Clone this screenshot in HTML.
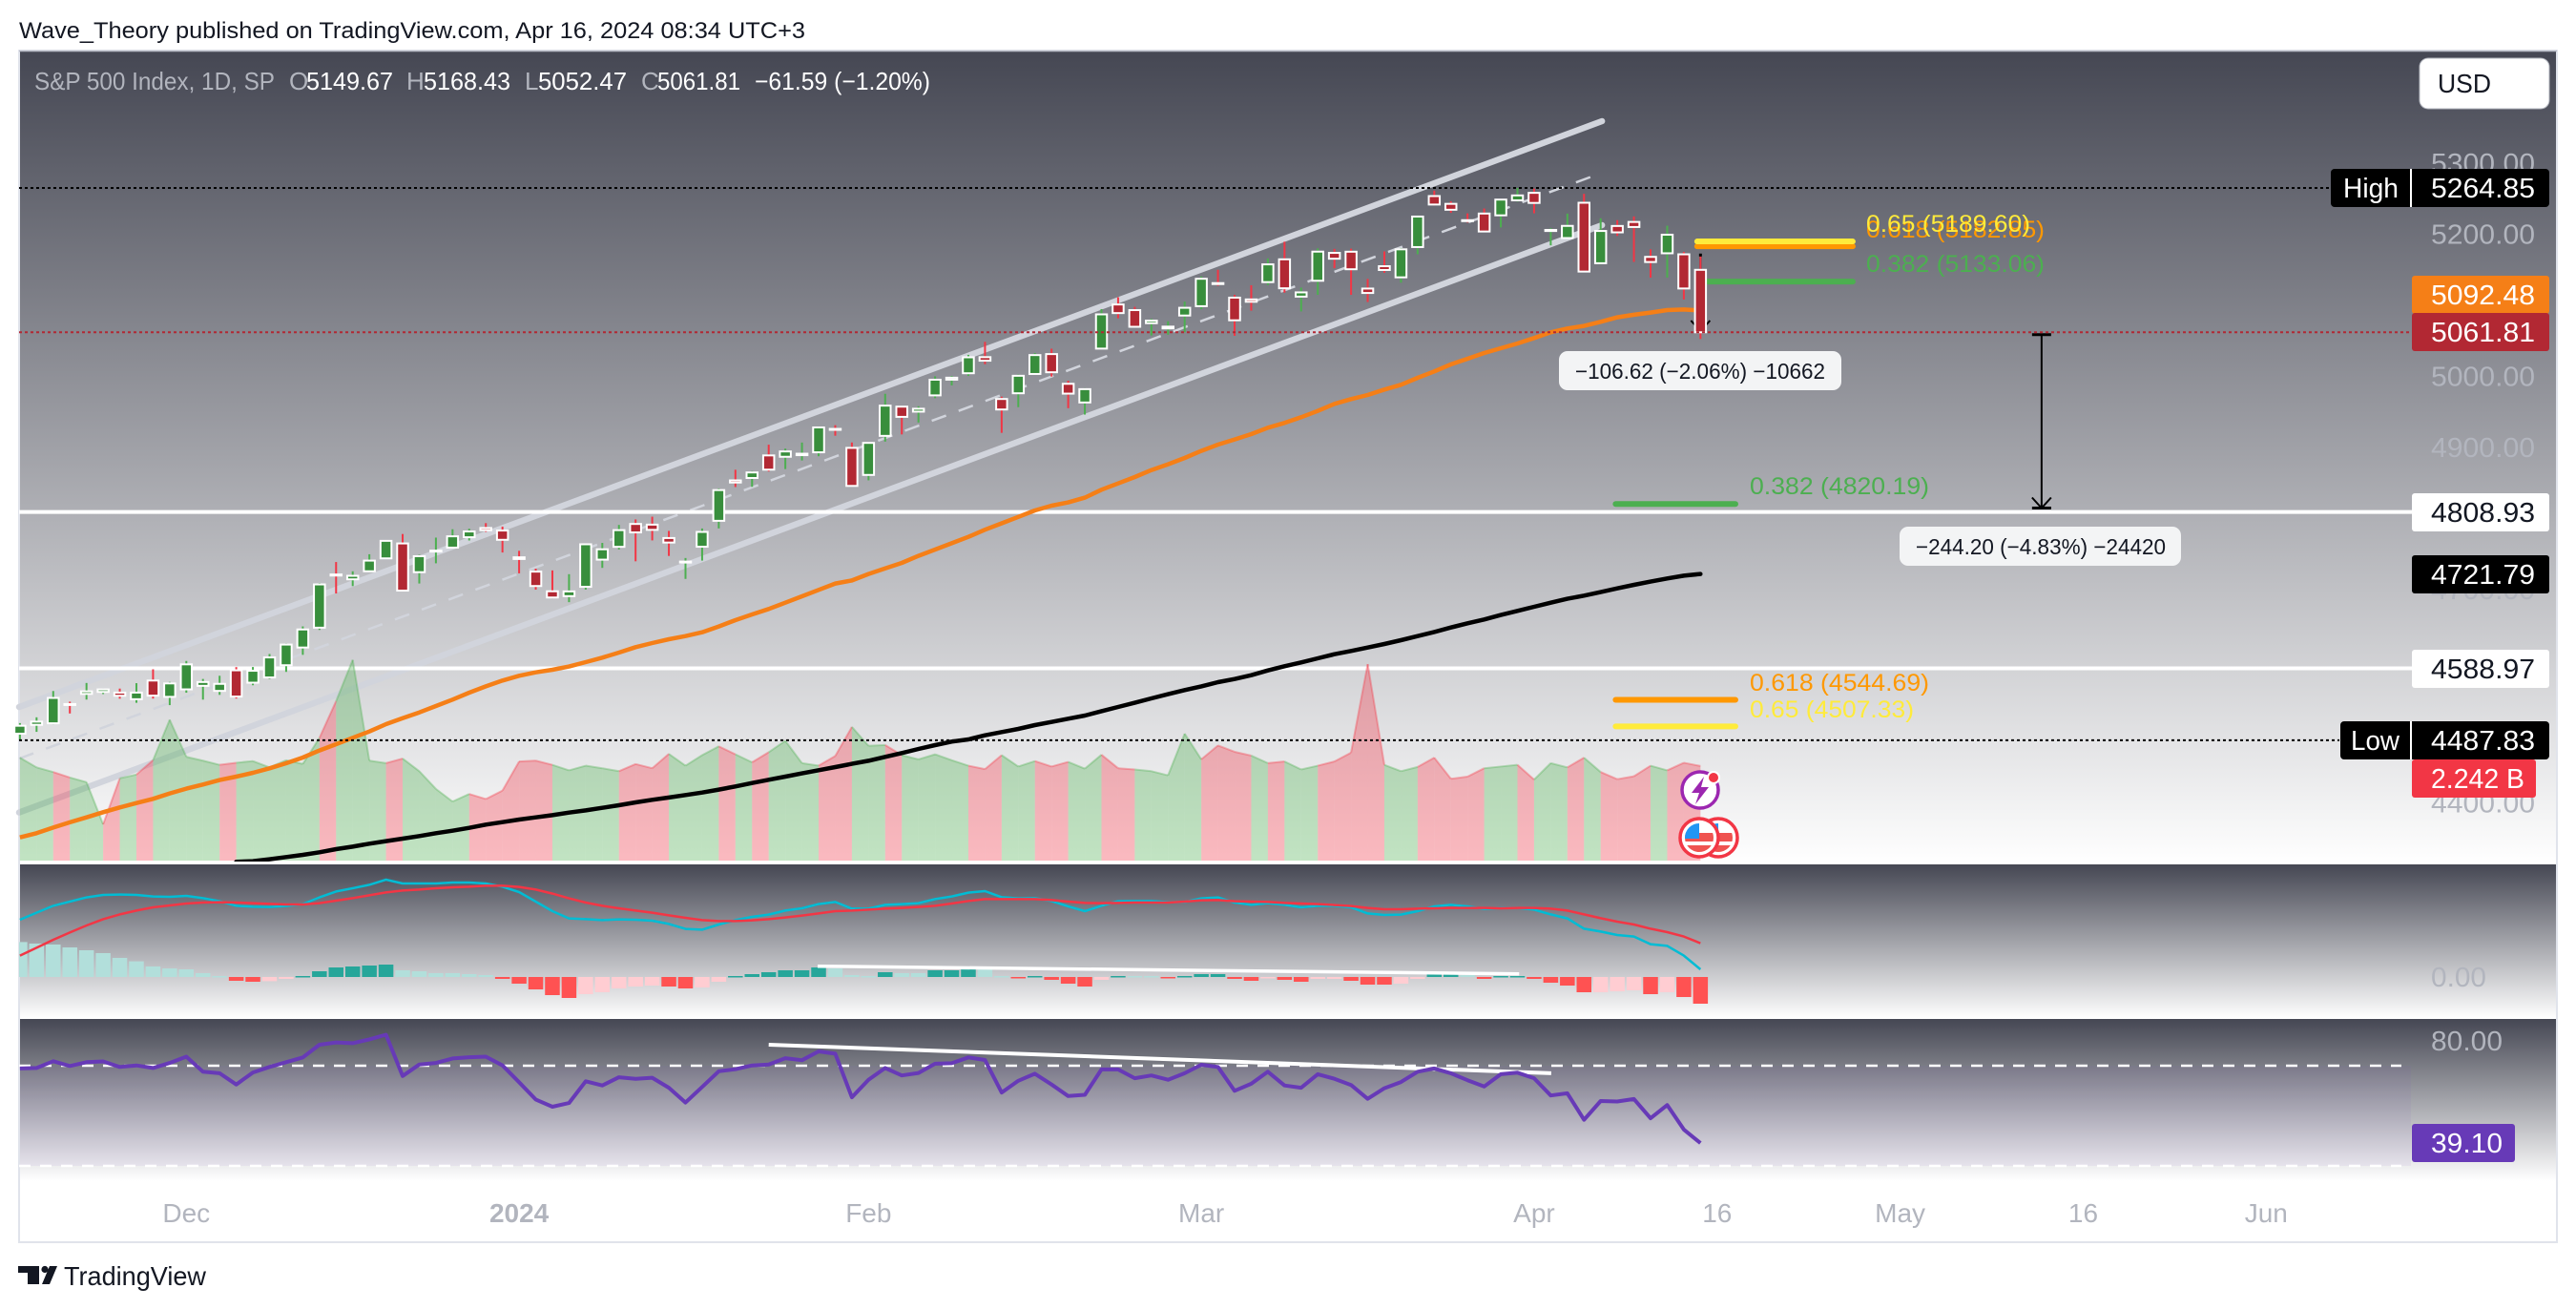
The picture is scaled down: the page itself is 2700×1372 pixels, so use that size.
<!DOCTYPE html>
<html lang="en">
<head>
<meta charset="utf-8">
<title>S&amp;P 500 Index chart</title>
<style>
html,body{margin:0;padding:0;background:#fff;width:2700px;height:1372px;overflow:hidden}
svg{display:block;font-family:"Liberation Sans",sans-serif}
</style>
</head>
<body>
<svg id="chart" width="2700" height="1372" viewBox="0 0 2700 1372" xmlns="http://www.w3.org/2000/svg">
<defs>
<linearGradient id="paneGrad" x1="0" y1="0" x2="0" y2="1"><stop offset="0" stop-color="#454753"/><stop offset="1" stop-color="#ffffff"/></linearGradient>
<clipPath id="mainClip"><rect x="20" y="54" width="2508" height="849"/></clipPath>
<clipPath id="flagClipA"><circle cx="1781" cy="878" r="15"/></clipPath>
<clipPath id="flagClipB"><circle cx="1801" cy="878" r="15"/></clipPath>
</defs>

<text x="20" y="40" font-size="24" fill="#131722" textLength="824" lengthAdjust="spacingAndGlyphs">Wave_Theory published on TradingView.com, Apr 16, 2024 08:34 UTC+3</text>

<rect x="20" y="54" width="2660" height="852" fill="url(#paneGrad)"/>
<rect x="20" y="906" width="2660" height="162" fill="url(#paneGrad)"/>
<rect x="20" y="1068" width="2660" height="170" fill="url(#paneGrad)"/>
<rect x="20" y="1117" width="2507" height="105" fill="#7e57c2" fill-opacity="0.07"/>
<rect x="20" y="53" width="2660" height="1249" fill="none" stroke="#e0e3eb" stroke-width="2"/>
<line x1="20" y1="53.5" x2="2680" y2="53.5" stroke="#b8bbc6" stroke-width="1.5"/>

<g id="priceTicks"></g>
<g id="channels"></g>
<g id="hlines"></g>
<g id="volume" clip-path="url(#mainClip)"></g>
<g id="emas" clip-path="url(#mainClip)"></g>
<g id="fibs"></g>
<g id="measures"></g>
<g id="candles"></g>
<g id="dotted"></g>

<g font-size="25">
<text x="1956" y="249" fill="#ff9800" textLength="187" lengthAdjust="spacingAndGlyphs">0.618 (5182.85)</text>
<text x="1956" y="243" fill="#ffeb3b" textLength="172" lengthAdjust="spacingAndGlyphs">0.65 (5189.60)</text>
<text x="1956" y="285" fill="#4caf50" textLength="187" lengthAdjust="spacingAndGlyphs">0.382 (5133.06)</text>
<text x="1834" y="518" fill="#4caf50" textLength="188" lengthAdjust="spacingAndGlyphs">0.382 (4820.19)</text>
<text x="1834" y="724" fill="#ff9800" textLength="188" lengthAdjust="spacingAndGlyphs">0.618 (4544.69)</text>
<text x="1834" y="752" fill="#ffeb3b" textLength="172" lengthAdjust="spacingAndGlyphs">0.65 (4507.33)</text>
</g>

<g>
<rect x="1634" y="368" width="296" height="41" rx="9" fill="#f3f4f5"/>
<text x="1651" y="397" font-size="23" fill="#131722" textLength="262" lengthAdjust="spacingAndGlyphs">−106.62 (−2.06%) −10662</text>
<rect x="1991" y="552" width="295" height="41" rx="9" fill="#f3f4f5"/>
<text x="2008" y="581" font-size="23" fill="#131722" textLength="262" lengthAdjust="spacingAndGlyphs">−244.20 (−4.83%) −24420</text>
</g>

<g id="macdPane"></g>
<g id="rsiPane"></g>

<g font-size="26">
<text x="36" y="94" fill="#b2b5be" textLength="252" lengthAdjust="spacingAndGlyphs">S&amp;P 500 Index, 1D, SP</text>
<text x="303" y="94" fill="#b2b5be">O</text>
<text x="321" y="94" fill="#fff" textLength="91" lengthAdjust="spacingAndGlyphs">5149.67</text>
<text x="426" y="94" fill="#b2b5be">H</text>
<text x="444" y="94" fill="#fff" textLength="91" lengthAdjust="spacingAndGlyphs">5168.43</text>
<text x="550" y="94" fill="#b2b5be">L</text>
<text x="564" y="94" fill="#fff" textLength="93" lengthAdjust="spacingAndGlyphs">5052.47</text>
<text x="672" y="94" fill="#b2b5be">C</text>
<text x="689" y="94" fill="#fff" textLength="87" lengthAdjust="spacingAndGlyphs">5061.81</text>
<text x="791" y="94" fill="#fff" textLength="184" lengthAdjust="spacingAndGlyphs">−61.59 (−1.20%)</text>
</g>

<g>
<rect x="2536" y="61" width="136" height="53" rx="9" fill="#fff" stroke="#b2b5be" stroke-width="1"/>
<text x="2555" y="97" font-size="28" fill="#131722" textLength="56" lengthAdjust="spacingAndGlyphs">USD</text>
</g>

<g font-size="29">
<rect x="2443" y="177" width="229" height="40" rx="4" fill="#000"/>
<rect x="2526" y="177" width="2" height="40" fill="#fff"/>
<text x="2456" y="207" fill="#fff" textLength="58" lengthAdjust="spacingAndGlyphs">High</text>
<text x="2548" y="207" fill="#fff" textLength="109" lengthAdjust="spacingAndGlyphs">5264.85</text>

<rect x="2528" y="289" width="144" height="40" rx="3" fill="#f57f17"/>
<text x="2548" y="319" fill="#fff" textLength="109" lengthAdjust="spacingAndGlyphs">5092.48</text>
<rect x="2528" y="328" width="144" height="40" rx="3" fill="#b22833"/>
<text x="2548" y="358" fill="#fff" textLength="109" lengthAdjust="spacingAndGlyphs">5061.81</text>

<rect x="2528" y="517" width="144" height="40" rx="3" fill="#fff"/>
<text x="2548" y="547" fill="#131722" textLength="109" lengthAdjust="spacingAndGlyphs">4808.93</text>
<rect x="2528" y="582" width="144" height="40" rx="3" fill="#000"/>
<text x="2548" y="612" fill="#fff" textLength="109" lengthAdjust="spacingAndGlyphs">4721.79</text>
<rect x="2528" y="681" width="144" height="40" rx="3" fill="#fff"/>
<text x="2548" y="711" fill="#131722" textLength="109" lengthAdjust="spacingAndGlyphs">4588.97</text>

<rect x="2453" y="756" width="219" height="40" rx="4" fill="#000"/>
<rect x="2526" y="756" width="2" height="40" fill="#fff"/>
<text x="2464" y="786" fill="#fff" textLength="51" lengthAdjust="spacingAndGlyphs">Low</text>
<text x="2548" y="786" fill="#fff" textLength="109" lengthAdjust="spacingAndGlyphs">4487.83</text>

<rect x="2528" y="796" width="130" height="40" rx="3" fill="#f23645"/>
<text x="2548" y="826" fill="#fff" textLength="98" lengthAdjust="spacingAndGlyphs">2.242 B</text>

<text x="2548" y="1034" fill="#b2b5be" textLength="58" lengthAdjust="spacingAndGlyphs">0.00</text>
<text x="2548" y="1101" fill="#b2b5be" textLength="75" lengthAdjust="spacingAndGlyphs">80.00</text>
<rect x="2528" y="1178" width="108" height="40" rx="3" fill="#673ab7"/>
<text x="2548" y="1208" fill="#fff" textLength="75" lengthAdjust="spacingAndGlyphs">39.10</text>
</g>

<g id="timeTicks"></g>

<g>
<circle cx="1782" cy="828" r="19" fill="#fff" stroke="#9c27b0" stroke-width="3.5"/>
<polygon points="1786,814 1773,831 1781,831 1777,843 1791,825 1783,825" fill="#9c27b0"/>
<circle cx="1796" cy="815" r="7" fill="#fff"/>
<circle cx="1796" cy="815" r="5" fill="#f23645"/>
</g>
<g>
<circle cx="1801" cy="878" r="20" fill="#fff" stroke="#f23645" stroke-width="3.5"/>
<g clip-path="url(#flagClipB)">
<rect x="1786" y="873" width="30" height="9" fill="#ef5350"/>
<rect x="1786" y="886" width="30" height="8" fill="#ef5350"/>
<rect x="1786" y="862" width="15" height="12" fill="#2196f3"/>
</g>
<circle cx="1781" cy="878" r="20" fill="#fff" stroke="#f23645" stroke-width="3.5"/>
<g clip-path="url(#flagClipA)">
<rect x="1766" y="873" width="30" height="9" fill="#ef5350"/>
<rect x="1766" y="886" width="30" height="8" fill="#ef5350"/>
<rect x="1766" y="863" width="15" height="16" fill="#2196f3"/>
</g>
</g>

<g>
<polygon points="19,1327 41,1327 41,1346 29,1346 29,1334 19,1334" fill="#131722"/>
<circle cx="47" cy="1330.5" r="3.6" fill="#131722"/>
<polygon points="52,1327 60,1327 52,1346 44,1346" fill="#131722"/>
<text x="67" y="1347" font-size="28" fill="#131722" textLength="149" lengthAdjust="spacingAndGlyphs">TradingView</text>
</g>
</svg>

<script>
const opens=[4497.08,4509.55,4511.7,4538.77,4553.04,4555.84,4554.86,4545.55,4571.84,4548.88,4559.43,4564.37,4557.25,4586.23,4568.84,4576.2,4593.39,4618.3,4646.2,4721.04,4714.23,4725.58,4743.72,4764.73,4724.29,4753.92,4758.86,4773.45,4786.44,4782.88,4745.2,4725.07,4697.42,4690.57,4703.7,4741.93,4759.94,4792.13,4791.18,4772.35,4739.13,4760.1,4796.56,4853.42,4856.8,4888.56,4886.66,4888.91,4892.95,4925.89,4899.19,4861.11,4916.06,4957.19,4950.16,4973.05,4995.16,5004.17,5026.83,4967.94,4976,5003.14,5031.13,4989.32,4963.03,5038.83,5100.92,5093,5074.6,5067.2,5085.36,5098.51,5130.99,5110.52,5108.03,5132.38,5164.46,5111.96,5134.3,5173.49,5175.14,5123.31,5154.77,5139.09,5181.69,5253.43,5242.48,5219.52,5228.85,5226.31,5247.41,5257.97,5204.29,5194.37,5244.05,5158.95,5211.37,5217.03,5167.88,5172.95,5171.51,5149.67];
const highs=[4511.99,4520.12,4557.11,4542.14,4568.43,4560.31,4560.52,4568.14,4587.64,4569.89,4599.39,4574.06,4578.56,4590.74,4590.92,4609.23,4624,4648,4709,4738.57,4725.53,4749.52,4768.69,4778.01,4748.71,4772.94,4784.72,4785.39,4793.3,4788.43,4754.33,4729.29,4726.78,4721.49,4764.54,4765.47,4790.8,4798.5,4802.4,4782.34,4744.23,4785.79,4842.07,4868.41,4866.48,4903.68,4898.15,4906.69,4929.31,4931.09,4906.75,4906.97,4975.29,4957.19,4957.77,4999.89,5000.4,5030.06,5048.39,4971.3,5002.52,5032.72,5038.7,4993.71,4983.21,5094.39,5111.06,5097.66,5080.69,5077.37,5104.99,5140.33,5149.67,5114.54,5127.97,5165.62,5189.26,5124.66,5179.87,5179.14,5179.47,5136.86,5175.6,5180.31,5226.19,5261.1,5246.09,5229.09,5235.91,5249.26,5264.85,5263.95,5208.34,5228.75,5256.59,5222.18,5219.57,5224.81,5178.43,5211.78,5175.03,5168.43];
const lows=[4487.83,4499.66,4510.36,4525.51,4545.05,4552.8,4546.32,4540.51,4546.5,4537.24,4554.71,4544.98,4551.68,4546.5,4565.22,4574.06,4584,4608,4643,4694.34,4704.69,4725.58,4743.72,4697.82,4708.35,4736.77,4758.45,4768.9,4780.98,4751.99,4722.67,4699.71,4687.53,4682.11,4699.82,4730.35,4756.2,4739.58,4768.98,4747.12,4714.82,4740.57,4785.87,4844.05,4844.37,4865.94,4869.34,4881.47,4887.4,4916.27,4845.15,4853.52,4907.99,4918.09,4934.88,4969.05,4987.09,5000.34,5016.83,4920.31,4956.45,5003.14,4999.52,4955.02,4946,5038.83,5081.46,5068.91,5057.29,5058.35,5061.89,5094.16,5127.18,5056.82,5092.22,5128.21,5117.5,5091.14,5114.48,5151.88,5114.48,5104.35,5145.47,5131.59,5171.55,5240,5229.87,5216.09,5203.42,5209.36,5245.6,5229.2,5184.05,5194.37,5146.06,5157.21,5197.35,5160.78,5138.7,5138.77,5107.94,5052.47];
const closes=[4508.24,4514.02,4547.38,4538.19,4556.62,4559.34,4550.43,4554.89,4550.58,4567.8,4594.63,4569.78,4567.18,4549.34,4585.59,4604.37,4622.44,4643.7,4707.09,4719.55,4719.19,4740.56,4768.37,4698.35,4746.75,4754.63,4774.75,4781.58,4783.35,4769.83,4742.83,4704.81,4688.68,4697.24,4763.54,4756.5,4783.45,4780.24,4783.83,4765.98,4739.21,4780.94,4839.81,4850.43,4864.6,4868.55,4894.16,4890.97,4927.93,4924.97,4845.65,4906.19,4958.61,4942.81,4954.23,4995.06,4997.91,5026.61,5021.84,4953.17,5000.62,5029.73,5005.57,4975.51,4981.8,5087.03,5088.8,5069.53,5078.18,5069.76,5096.27,5137.08,5130.95,5078.65,5104.76,5157.36,5123.69,5117.94,5175.27,5165.31,5150.48,5117.09,5149.42,5178.51,5224.62,5241.53,5234.18,5218.19,5203.58,5248.49,5254.35,5243.77,5205.81,5211.49,5147.21,5204.34,5202.39,5209.91,5160.64,5199.06,5123.41,5061.81];
const volumes=[2.44,2.21,2.10,1.97,1.86,0.86,1.95,2.04,2.38,3.34,2.46,2.37,2.27,2.32,2.36,2.21,2.38,2.29,2.91,3.78,4.76,2.37,2.31,2.42,2.12,1.70,1.40,1.58,1.46,1.66,2.35,2.37,2.27,2.14,2.25,2.19,2.12,2.29,2.19,2.53,2.25,2.50,2.71,2.52,2.33,2.57,2.84,2.31,2.25,2.48,3.17,2.72,2.74,2.50,2.40,2.52,2.38,2.25,2.17,2.50,2.23,2.36,2.23,2.34,2.18,2.51,2.19,2.16,2.12,2.02,3.01,2.40,2.73,2.58,2.49,2.31,2.35,2.16,2.25,2.35,2.56,4.66,2.27,2.12,2.22,2.44,1.94,1.99,2.19,2.23,2.27,1.92,2.31,2.21,2.44,2.10,1.93,2.00,2.25,2.14,2.32,2.242];
const ema50=[4351.2,4357,4365,4372.3,4379.4,4386.6,4393.3,4399.5,4405.4,4413,4419.7,4425.5,4431.8,4436.7,4442,4448.3,4455.5,4463.5,4473.4,4482.3,4491.3,4500.2,4510.5,4519,4527,4536,4545,4554.8,4563.7,4571.8,4578.5,4583.4,4587,4591.5,4597.7,4604,4611.2,4618.8,4624.6,4630,4634.4,4639.8,4647.9,4656.8,4664.9,4672.5,4681.4,4690.4,4699.3,4708.3,4712.7,4721.7,4729.7,4737.3,4747.2,4756.1,4765,4774,4784,4793,4802,4811.2,4817.9,4822.4,4829.1,4840.3,4849.2,4858.2,4868,4876.1,4885,4894.9,4903.8,4911,4918.6,4927.5,4934.2,4942.3,4951.2,4961.1,4967.8,4973.6,4981.2,4987.9,4997.8,5006.7,5016.6,5024.6,5032.7,5039.4,5046.1,5053.7,5061.7,5067.1,5070.7,5076.5,5082.8,5086.4,5089.5,5093,5093.9,5092.48];
const ema200Start=13;
const ema200=[4316.8,4317.7,4320.4,4323.5,4326.6,4330.2,4334.7,4338.2,4342.3,4345.9,4349.4,4353,4357,4360.6,4364.6,4369.1,4372.7,4376.3,4379.4,4382.5,4386.1,4389.2,4392.8,4396.4,4400.4,4404,4407.2,4410.7,4414.3,4418.4,4422.8,4427.7,4432.2,4436.7,4441.2,4445.6,4450.1,4454.6,4459,4464.4,4469.8,4475.6,4481,4485.9,4489,4494.8,4499.3,4503.8,4509.2,4513.6,4518.1,4522.6,4528.8,4534.7,4540.5,4546.7,4552.6,4558.4,4563.7,4569.6,4574,4579.4,4586.1,4591.9,4597.3,4603.1,4608.9,4613.4,4618.3,4623.2,4628.6,4634.4,4640.2,4646.5,4652.3,4657.7,4664,4669.8,4675.6,4681.4,4686.8,4691.3,4696.2,4701.5,4706.5,4711,4715.4,4719.4,4721.79];
const macdLine=[30,33.7,37.3,39.5,41.7,43,43.2,43,42.2,42,42.5,41.3,39.7,37.3,36.8,36.7,37.2,38.2,41.7,44.8,46.5,48.3,51,49,49,49,49.5,49.5,49,47.3,44.5,39.5,34.5,30.7,30.3,29.8,30.2,30,29.5,27.8,25.2,24.8,27.5,29.8,31.5,32.7,34.8,36,38.2,39.3,35.8,35.8,37.8,38.2,38.7,40.8,42.2,44.2,45,41.8,41.2,41.3,39.8,37,34.5,37.3,39.7,39.8,39.8,39.2,39.3,41.2,41.7,39,37.8,38.7,37.8,36.5,37.3,37.3,36.5,33.3,32.5,32.7,34.5,37,37.8,37,35.7,36.2,36.2,35.3,32.8,30.7,25.3,23.8,22,21.2,17.2,16.3,11.2,4];
const signalLine=[11.2,15.3,19.5,23.3,27,30.3,32.8,34.8,36.5,37.5,38.5,39,39.2,39,38.7,38.3,38,38,38.7,40,41.3,42.8,44.3,45.3,45.8,46.5,47,47.3,47.8,47.8,47.2,45.8,43.7,41.2,39,37.3,36,34.8,33.7,32.3,31,29.8,29.3,29.3,29.7,30.3,31.2,32.2,33.3,34.5,34.8,35.3,35.8,36.2,36.7,37.3,38.5,39.8,40.8,40.8,40.8,40.8,40.3,39.5,38.8,38.7,38.8,39,39,39,39.5,40.2,40.3,39.7,39.5,39.3,38.8,38.5,38.2,37.7,37.2,36.2,35.5,35.5,35.8,36,36.2,36.2,36.2,36,36.2,36.2,35.8,34.8,32.8,30.8,29,27.5,25.3,23.5,21.2,17.7];
const macdHist=[18.3,17.5,17,15.5,14,12.5,10,8.2,5.5,4.5,4,2,0.5,-2,-2.5,-2.2,-1,0.5,3,5,5.5,6,6.5,3.5,3,2,2,1.5,1,-1,-3.5,-6.5,-9.5,-11,-9,-8,-6,-5,-4.5,-5,-6,-5.5,-2.5,0.5,1.5,2.5,3.5,3.5,5,4.5,1,0.5,2.5,2,2,3.5,3.5,4.5,4,0.5,-0.5,0.5,-1.5,-3.5,-5,-1.5,0.5,0.5,0.5,-0.5,0.5,1.5,1.5,-1,-2,-0.5,-1.5,-2.5,-1,-1,-2,-4,-4,-3.5,-1,1.5,1.5,1,-1,0.5,0.5,-1,-3,-4.5,-8,-8,-7.5,-7,-9,-8,-10.5,-14];
const macdHistShade=["L","L","L","L","L","L","L","L","L","L","L","L","L","R","R","P","P","T","T","T","T","T","T","L","L","L","L","L","L","R","R","R","R","R","P","P","P","P","P","R","R","P","P","T","T","T","T","T","T","L","L","L","T","L","L","T","T","T","L","L","R","T","R","R","R","P","T","L","L","R","T","T","T","R","R","P","R","R","P","P","R","R","R","P","P","T","T","L","R","T","T","R","R","R","R","P","P","P","R","P","R","R"];
const histColors={L:"#b2dfdb",T:"#26a69a",R:"#ff5252",P:"#ffcdd2"};
const rsiValues=[68.9,69.1,71.8,69.9,71.4,71.7,69.5,70.1,69.1,71.1,73.6,67.6,67,62.5,67.3,69.5,71.4,73.3,78.4,79.3,79,80.5,82.4,65.9,70.5,71.1,72.9,73.4,73.6,70.1,63.4,56.5,53.6,55.1,63.8,62.1,65.4,64.8,65.2,61.2,55.3,61.5,67.8,68.6,70.1,70.5,73,72.2,75.7,74.8,57.4,64.4,69.1,66.1,67.1,70.8,71,73.3,72.3,59.3,64,66.8,62.5,57.9,58.4,68.5,68.5,65,66.1,64.4,67,70.4,69.5,60,62.8,67.6,62.1,61.2,66.6,64.8,62.3,56.8,61,63.5,67.6,68.9,67,64.2,61.7,66.6,67.2,65,58.1,59,48.4,55.9,55.7,56.7,49,54.3,44.5,39.1];
const rsiLevels=[70,30];
const priceTickValues=[5300,5200,5100,5000,4900,4800,4700,4600,4500,4400];
const priceTickLabels=["5300.00","5200.00","5100.00","5000.00","4900.00","4800.00","4700.00","4600.00","4500.00","4400.00"];
const timeTickBars=[10,30,51,71,91,102,113,124,135];
const timeTickLabels=["Dec","2024","Feb","Mar","Apr","16","May","16","Jun"];
const whiteLevels=[4808.93,4588.97];
const dottedBlackLevels=[5264.85,4487.83];
const dottedBlackEndBars=[138.8,139.4];
const lastPrice=5061.81;
const channelUpperBars=[-0.05,95.08];
const channelUpperPrices=[4534.6,5358.8];
const channelMiddleBars=[-0.05,95.0];
const channelMiddlePrices=[4462,5285.5];
const channelLowerBars=[-0.05,95.08];
const channelLowerPrices=[4386.2,5212.5];
const fibPrices=[5182.85,5189.6,5133.06,4820.19,4544.69,4507.33];
const fibStartBars=[100.8,100.8,100.8,95.9,95.9,95.9];
const fibEndBars=[110.15,110.15,110.15,103.1,103.1,103.1];
const fibColors=["#ff9800","#ffeb3b","#4caf50","#4caf50","#ff9800","#ffeb3b"];
const measureBars=[101,121.5];
const measureFrom=[5170.5,5058.5];
const measureTo=[5063.5,4814.5];
const measureCapHalf=[1.5,10];
const macdTrendBars=[47.94,90.1];
const macdTrendValues=[5.65,1.65];
const rsiTrendBars=[45,92.03];
const rsiTrendValues=[78.4,67];

const SVGNS="http://www.w3.org/2000/svg";
const xAt=i=>20.9+17.44*i;
const priceY=p=>197+(5264.85-p)*0.745;
const volY=v=>902-v*44.2;
const macdY=v=>1024-v*2;
const rsiY=v=>1117+(70-v)*2.625;
const RIGHT=2528;

function mk(parent,tag,attrs,text){
  const el=document.createElementNS(SVGNS,tag);
  for(const k in attrs)el.setAttribute(k,attrs[k]);
  if(text!==undefined)el.textContent=text;
  document.getElementById(parent).appendChild(el);
  return el;
}
function polyPoints(values,yFn,start){
  return values.map((v,k)=>xAt(k+(start||0)).toFixed(1)+","+yFn(v).toFixed(1)).join(" ");
}

priceTickValues.forEach((p,k)=>{
  const el=mk("priceTicks","text",{x:2548,y:priceY(p)+10,"font-size":29,fill:"#b2b5be",textLength:109,lengthAdjust:"spacingAndGlyphs"},priceTickLabels[k]);
  
  
});

timeTickBars.forEach((b,k)=>{
  const bold=timeTickLabels[k]==="2024";
  const el=mk("timeTicks","text",{x:xAt(b),y:1281,"font-size":28,fill:"#b2b5be","text-anchor":"middle","font-weight":bold?"bold":"normal"},timeTickLabels[k]);
  
  
});

const upper=mk("channels","line",{x1:xAt(channelUpperBars[0]),y1:priceY(channelUpperPrices[0]),x2:xAt(channelUpperBars[1]),y2:priceY(channelUpperPrices[1]),stroke:"#d1d4dc","stroke-width":6.5,"stroke-linecap":"round"});


const lower=mk("channels","line",{x1:xAt(channelLowerBars[0]),y1:priceY(channelLowerPrices[0]),x2:xAt(channelLowerBars[1]),y2:priceY(channelLowerPrices[1]),stroke:"#d1d4dc","stroke-width":6.5,"stroke-linecap":"round"});


const middle=mk("channels","line",{x1:xAt(channelMiddleBars[0]),y1:priceY(channelMiddlePrices[0]),x2:xAt(channelMiddleBars[1]),y2:priceY(channelMiddlePrices[1]),stroke:"#d1d4dc","stroke-width":2.5,"stroke-dasharray":"16 14"});



whiteLevels.forEach(p=>{
  const el=mk("hlines","line",{x1:20,y1:priceY(p),x2:RIGHT,y2:priceY(p),stroke:"#fff","stroke-width":4});
  
  
});

for(let i=0;i<volumes.length-1;i++){
  const up=closes[i+1]>=opens[i+1];
  const x1=xAt(i),x2=xAt(i+1),y1=volY(volumes[i]),y2=volY(volumes[i+1]);
  const area=mk("volume","polygon",{points:`${x1},902 ${x1},${y1} ${x2},${y2} ${x2},902`,fill:up?"rgba(76,175,80,0.34)":"rgba(244,54,69,0.34)"});
  
  
  const edge=mk("volume","line",{x1:x1,y1:y1,x2:x2,y2:y2,stroke:up?"rgba(76,175,80,0.35)":"rgba(244,54,69,0.35)","stroke-width":2});
  
  
}

const e50=mk("emas","polyline",{points:polyPoints(ema50,priceY),fill:"none",stroke:"#f57f17","stroke-width":4.5,"stroke-linejoin":"round"});


const e200=mk("emas","polyline",{points:polyPoints(ema200,priceY,ema200Start),fill:"none",stroke:"#000","stroke-width":4.5,"stroke-linejoin":"round","stroke-linecap":"round"});



fibPrices.forEach((p,k)=>{
  const el=mk("fibs","line",{x1:xAt(fibStartBars[k]),y1:priceY(p),x2:xAt(fibEndBars[k]),y2:priceY(p),stroke:fibColors[k],"stroke-width":6,"stroke-linecap":"round"});
  
  
});

measureBars.forEach((b,k)=>{
  const x=xAt(b),y1=priceY(measureFrom[k]),y2=priceY(measureTo[k]),half=measureCapHalf[k];
  const stem=mk("measures","line",{x1:x,y1:y1,x2:x,y2:y2,stroke:"#000","stroke-width":2});
  
  
  const capTop=mk("measures","line",{x1:x-half,y1:y1,x2:x+half,y2:y1,stroke:"#000","stroke-width":3});
  
  
  const capBottom=mk("measures","line",{x1:x-half,y1:y2,x2:x+half,y2:y2,stroke:"#000","stroke-width":3});
  
  
  const head=mk("measures","polyline",{points:`${x-10},${y2-11} ${x},${y2} ${x+10},${y2-11}`,fill:"none",stroke:"#000","stroke-width":2});
  
  
});

closes.forEach((c,i)=>{
  const o=opens[i],up=c>=o,x=xAt(i);
  const wick=mk("candles","line",{x1:x,y1:priceY(highs[i]),x2:x,y2:priceY(lows[i]),stroke:up?"#4caf50":"#f23645","stroke-width":2});
  
  
  const top=priceY(Math.max(o,c)),h=Math.max(Math.abs(priceY(o)-priceY(c)),1);
  const body=mk("candles","rect",{x:x-5.75,y:top,width:11.5,height:h,fill:up?"#388e3c":"#b22833",stroke:"#fff","stroke-width":2});
  
  
});

dottedBlackLevels.forEach((p,k)=>{
  const el=mk("dotted","line",{x1:20,y1:priceY(p),x2:xAt(dottedBlackEndBars[k]),y2:priceY(p),stroke:"#000","stroke-width":2,"stroke-dasharray":"3 3"});
  
  
});
const lastLine=mk("dotted","line",{x1:20,y1:priceY(lastPrice),x2:RIGHT,y2:priceY(lastPrice),stroke:"#b22833","stroke-width":2,"stroke-dasharray":"3 3"});



macdHist.forEach((v,i)=>{
  const y=macdY(v),base=macdY(0);
  const bar=mk("macdPane","rect",{x:Math.max(20,xAt(i)-7.75),y:Math.min(y,base),width:xAt(i)-7.75<20?xAt(i)+7.75-20:15.5,height:Math.max(Math.abs(y-base),1.5),fill:histColors[macdHistShade[i]]});
  
  
});
const macdTrend=mk("macdPane","line",{x1:xAt(macdTrendBars[0]),y1:macdY(macdTrendValues[0]),x2:xAt(macdTrendBars[1]),y2:macdY(macdTrendValues[1]),stroke:"#fff","stroke-width":3.5});


const macdPoly=mk("macdPane","polyline",{points:polyPoints(macdLine,macdY),fill:"none",stroke:"#00bcd4","stroke-width":2.5,"stroke-linejoin":"round"});


const signalPoly=mk("macdPane","polyline",{points:polyPoints(signalLine,macdY),fill:"none",stroke:"#f23645","stroke-width":2.5,"stroke-linejoin":"round"});



rsiLevels.forEach(v=>{
  const el=mk("rsiPane","line",{x1:20,y1:rsiY(v),x2:2517,y2:rsiY(v),stroke:"#fff","stroke-width":2.5,"stroke-dasharray":"12 10"});
  
  
});
const rsiTrend=mk("rsiPane","line",{x1:xAt(rsiTrendBars[0]),y1:rsiY(rsiTrendValues[0]),x2:xAt(rsiTrendBars[1]),y2:rsiY(rsiTrendValues[1]),stroke:"#fff","stroke-width":4});


const rsiPoly=mk("rsiPane","polyline",{points:polyPoints(rsiValues,rsiY),fill:"none",stroke:"#673ab7","stroke-width":4,"stroke-linejoin":"round"});


</script>
</body>
</html>
